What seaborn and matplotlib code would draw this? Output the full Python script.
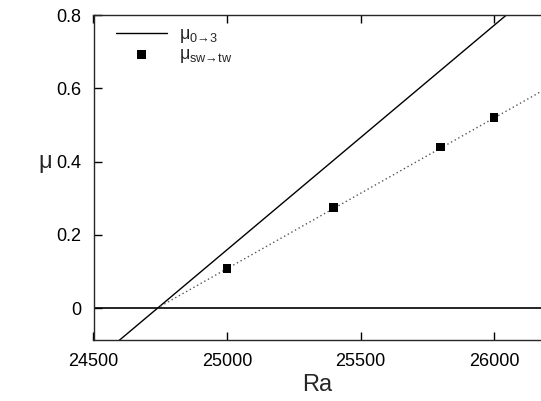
import numpy as np
import pandas as pd
import matplotlib
matplotlib.use("Agg")
import matplotlib.pyplot as plt
import seaborn as sns

# ---------- data ----------
# solid line mu_{0->3}: two end points
ra_line = [24500, 26200]
mu_line = [-0.147, 0.894]

# measured mu_{sw->tw}
ra_pts = [25000, 25400, 25800, 26000]
mu_pts = [0.109, 0.275, 0.440, 0.521]

# dotted fit through the squares
ra_fit = [24738, 26200]
mu_fit = [0.0, 0.601]

XTICKS = [24500, 25000, 25500, 26000]
YTICKS = [0, 0.2, 0.4, 0.6, 0.8]

# ---------- style ----------
sns.set_style("ticks")
plt.rcParams.update({
    "font.family": ["Liberation Sans", "DejaVu Sans"],
    "mathtext.fontset": "custom",
    "mathtext.rm": "Liberation Sans",
    "mathtext.it": "Liberation Sans",
    "mathtext.sf": "Liberation Sans",
    "xtick.direction": "in",
    "ytick.direction": "in",
    "xtick.top": True,
    "axes.linewidth": 1.0,
})

fig = plt.figure(figsize=(5.41, 4.01), dpi=100)
W, H = 541, 401
ax = fig.add_axes([93.5 / W, (H - 340) / H, (541 - 93.5) / W, (340 - 15) / H])

df_line = pd.DataFrame({"Ra": ra_line, "mu": mu_line})
df_pts = pd.DataFrame({"Ra": ra_pts, "mu": mu_pts})
df_fit = pd.DataFrame({"Ra": ra_fit, "mu": mu_fit})

sns.lineplot(data=df_line, x="Ra", y="mu", color="black", linewidth=1.0,
             label="$\\mathregular{\\mu_{0\u21923}}$", ax=ax)
sns.lineplot(data=df_fit, x="Ra", y="mu", color="#555555", linewidth=1.0,
             linestyle=(0, (1, 2)), ax=ax)
sns.scatterplot(data=df_pts, x="Ra", y="mu", color="black", marker="s", s=40,
                edgecolor="none", label="$\\mathregular{\\mu_{sw\u2192tw}}$",
                ax=ax, zorder=5)
ax.axhline(0, color="black", linewidth=1.2)

ax.set_xlim(24500, 26176)
ax.set_ylim(-0.087, 0.8)
ax.set_xticks(XTICKS)
ax.set_yticks(YTICKS)
ax.set_xticklabels([str(v) for v in XTICKS])
ax.set_yticklabels(["0", "0.2", "0.4", "0.6", "0.8"])
ax.tick_params(axis="both", length=6, width=1, labelsize=13, pad=9, colors="black")
ax.spines["right"].set_visible(False)

ax.set_xlabel("Ra", fontsize=17, labelpad=3)
ax.set_ylabel("μ", fontsize=17, rotation=0, va="center")
ax.yaxis.set_label_coords(-0.108, 0.548)

ax.legend(loc="upper left", bbox_to_anchor=(0.022, 1.005), frameon=False,
          fontsize=13, handlelength=2.8, handletextpad=0.7, labelspacing=0.05,
          borderaxespad=0.3)

fig.savefig("out.png", dpi=100)
